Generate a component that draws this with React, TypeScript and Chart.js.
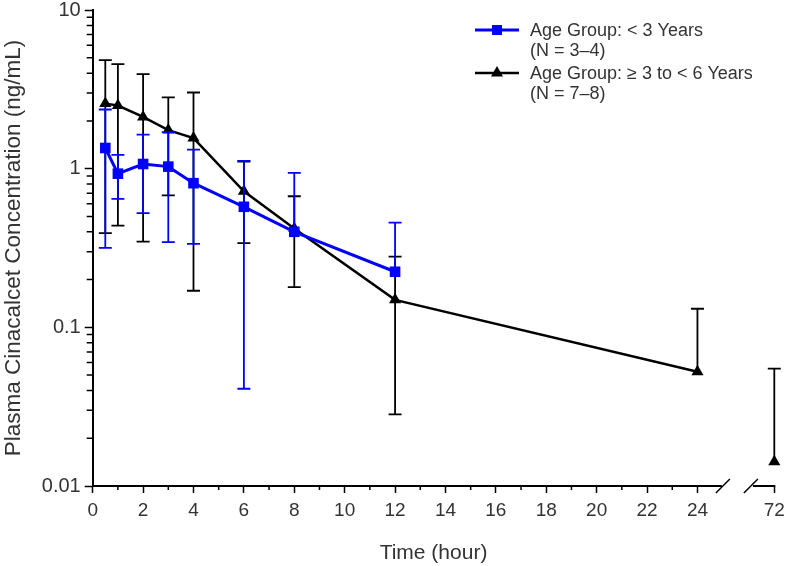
import React, { useEffect, useRef } from 'react';
import { Chart, registerables } from 'chart.js';
Chart.register(...registerables);

// ---------- data ----------
const SERIES_YOUNG_LABEL = ['Age Group: < 3 Years', '(N = 3–4)'];
const SERIES_OLDER_LABEL = ['Age Group: ≥ 3 to < 6 Years', '(N = 7–8)'];

const TIMES_YOUNG = [0.5, 1, 2, 3, 4, 6, 8, 12];
const MEAN_YOUNG = [1.35, 0.93, 1.07, 1.03, 0.81, 0.575, 0.40, 0.224];
const UPPER_YOUNG = [2.36, 1.22, 1.64, 1.70, 1.32, 1.12, 0.94, 0.457];
const LOWER_YOUNG = [0.317, 0.646, 0.524, 0.344, 0.336, 0.041, null, null];

const TIMES_OLDER = [0.5, 1, 2, 3, 4, 6, 8, 12, 24, 72];
const MEAN_OLDER = [2.57, 2.5, 2.12, 1.75, 1.56, 0.72, 0.42, 0.149, 0.0525, 0.0142];
const UPPER_OLDER = [4.83, 4.56, 3.94, 2.81, 3.02, 1.11, 0.67, 0.279, 0.131, 0.055];
const LOWER_OLDER = [0.392, 0.438, 0.347, 0.678, 0.170, 0.339, 0.179, 0.0283, null, null];

const X_TICK_HOURS = [0, 2, 4, 6, 8, 10, 12, 14, 16, 18, 20, 22, 24, 72];
const X_TICK_LABELS = ['0', '2', '4', '6', '8', '10', '12', '14', '16', '18', '20', '22', '24', '72'];
const X_MINOR_HOURS = [1, 3, 5, 7, 9, 11, 13, 15, 17, 19, 21, 23];
const Y_TICK_VALUES = [0.01, 0.1, 1, 10];
const Y_TICK_LABELS = ['0.01', '0.1', '1', '10'];
const Y_MINOR_MULTIPLIERS = [2, 3, 4, 5, 6, 7, 8, 9];
const X_TITLE = 'Time (hour)';
const Y_TITLE = 'Plasma Cinacalcet Concentration (ng/mL)';

// ---------- axis break ----------
const BREAK_START = 24;
const BREAK_END = 72;
const BREAK_SPAN = 3.05; // axis units used by the gap
const toAxis = (t: number) => (t <= BREAK_START ? t : BREAK_START + BREAK_SPAN + (t - BREAK_END));

const BLUE = '#0000ff';
const BLACK = '#000000';
const TEXT = '#333333';
const FONT = '"Liberation Sans", Arial, sans-serif';

const errorBarPlugin = {
  id: 'errorBars',
  beforeDatasetDraw(chart: any, args: any) {
    const ds = chart.data.datasets[args.index];
    const eb = ds.errorBars;
    if (!eb) return;
    const { ctx } = chart;
    const xs = chart.scales.x;
    const ys = chart.scales.y;
    ctx.save();
    ctx.strokeStyle = ds.borderColor;
    ctx.lineWidth = 1.8;
    const cap = 6.5;
    eb.times.forEach((t: number, i: number) => {
      const x = xs.getPixelForValue(toAxis(t));
      const yMid = ys.getPixelForValue(eb.mean[i]);
      const yTop = eb.upper[i] != null ? ys.getPixelForValue(eb.upper[i]) : yMid;
      const yBot = eb.lower[i] != null ? ys.getPixelForValue(eb.lower[i]) : yMid;
      ctx.beginPath();
      ctx.moveTo(x, yTop);
      ctx.lineTo(x, yBot);
      if (eb.upper[i] != null) {
        ctx.moveTo(x - cap, yTop);
        ctx.lineTo(x + cap, yTop);
      }
      if (eb.lower[i] != null) {
        ctx.moveTo(x - cap, yBot);
        ctx.lineTo(x + cap, yBot);
      }
      ctx.stroke();
    });
    ctx.restore();
  },
};

const decorPlugin = {
  id: 'decor',
  afterDraw(chart: any) {
    const { ctx, chartArea } = chart;
    const xs = chart.scales.x;
    const ys = chart.scales.y;
    const axisY = chartArea.bottom;
    ctx.save();
    ctx.strokeStyle = '#000';
    // x-axis line with break
    const leftEnd = xs.getPixelForValue(BREAK_START + 0.97);
    const rightStart = xs.getPixelForValue(BREAK_START + 2.2);
    ctx.lineWidth = 2;
    ctx.beginPath();
    ctx.moveTo(chartArea.left, axisY);
    ctx.lineTo(leftEnd, axisY);
    ctx.moveTo(rightStart, axisY);
    ctx.lineTo(chartArea.right + 1, axisY);
    ctx.stroke();
    ctx.lineWidth = 1.5;
    ctx.beginPath();
    ctx.moveTo(leftEnd - 6, axisY + 7);
    ctx.lineTo(leftEnd + 8, axisY - 7);
    ctx.moveTo(rightStart - 9, axisY + 7);
    ctx.lineTo(rightStart + 5, axisY - 7);
    ctx.stroke();
    // minor x ticks
    ctx.lineWidth = 1.5;
    ctx.beginPath();
    X_MINOR_HOURS.forEach((h) => {
      const x = xs.getPixelForValue(toAxis(h));
      ctx.moveTo(x, axisY);
      ctx.lineTo(x, axisY + 4);
    });
    // minor y ticks
    Y_TICK_VALUES.slice(0, -1).forEach((d) => {
      Y_MINOR_MULTIPLIERS.forEach((m) => {
        const y = ys.getPixelForValue(d * m);
        ctx.moveTo(chartArea.left - 6, y);
        ctx.lineTo(chartArea.left, y);
      });
    });
    ctx.stroke();

    // legend
    const items = [
      { label: SERIES_YOUNG_LABEL, color: BLUE, style: 'rect', y: 30 },
      { label: SERIES_OLDER_LABEL, color: BLACK, style: 'triangle', y: 73 },
    ];
    items.forEach((it) => {
      ctx.strokeStyle = it.color;
      ctx.fillStyle = it.color;
      ctx.lineWidth = it.color === BLUE ? 3 : 2.5;
      ctx.beginPath();
      ctx.moveTo(475, it.y);
      ctx.lineTo(519, it.y);
      ctx.stroke();
      const cx = 497;
      ctx.beginPath();
      if (it.style === 'rect') {
        ctx.rect(cx - 5, it.y - 5, 10, 10);
      } else {
        ctx.moveTo(cx, it.y - 7);
        ctx.lineTo(cx + 6, it.y + 3.5);
        ctx.lineTo(cx - 6, it.y + 3.5);
        ctx.closePath();
      }
      ctx.fill();
      ctx.fillStyle = TEXT;
      ctx.font = `18px ${FONT}`;
      ctx.textBaseline = 'middle';
      ctx.textAlign = 'left';
      ctx.fillText(it.label[0], 530, it.y + 1);
      ctx.fillText(it.label[1], 530, it.y + 21);
    });
    ctx.restore();
  },
};

export default function App() {
  const ref = useRef<HTMLCanvasElement>(null);
  useEffect(() => {
    const chart = new Chart(ref.current as HTMLCanvasElement, {
      type: 'line',
      data: {
        datasets: [
          {
            label: SERIES_YOUNG_LABEL.join(' '),
            data: TIMES_YOUNG.map((t, i) => ({ x: toAxis(t), y: MEAN_YOUNG[i] })),
            borderColor: BLUE,
            backgroundColor: BLUE,
            borderWidth: 3,
            pointStyle: 'rect',
            pointRadius: 7.5,
            pointHoverRadius: 7.5,
            pointBorderWidth: 0,
            clip: false,
            errorBars: { times: TIMES_YOUNG, mean: MEAN_YOUNG, upper: UPPER_YOUNG, lower: LOWER_YOUNG },
          } as any,
          {
            label: SERIES_OLDER_LABEL.join(' '),
            data: TIMES_OLDER.map((t, i) => ({ x: toAxis(t), y: MEAN_OLDER[i] })),
            borderColor: BLACK,
            backgroundColor: BLACK,
            borderWidth: 2.5,
            pointStyle: 'triangle',
            pointRadius: 7,
            pointHoverRadius: 7,
            pointBorderWidth: 0,
            clip: false,
            segment: {
              borderColor: (c: any) =>
                c.p0.parsed.x <= BREAK_START && c.p1.parsed.x > BREAK_START ? 'rgba(0,0,0,0)' : BLACK,
            },
            errorBars: { times: TIMES_OLDER, mean: MEAN_OLDER, upper: UPPER_OLDER, lower: LOWER_OLDER },
          } as any,
        ],
      },
      options: {
        animation: false,
        responsive: false,
        events: [],
        layout: { padding: { left: 0, right: 14.7, top: 10, bottom: 0 } },
        plugins: { legend: { display: false }, tooltip: { enabled: false } },
        scales: {
          x: {
            type: 'linear',
            min: 0,
            max: toAxis(BREAK_END),
            afterBuildTicks: (s: any) => {
              s.ticks = X_TICK_HOURS.map((h) => ({ value: toAxis(h) }));
            },
            afterFit: (s: any) => {
              s.height = 80;
              s.paddingLeft = 0;
              s.paddingRight = 0;
            },
            ticks: {
              callback: (_v: any, i: number) => X_TICK_LABELS[i],
              autoSkip: false,
              maxRotation: 0,
              padding: 8,
              color: TEXT,
              font: { family: FONT, size: 19, lineHeight: 1 },
            },
            grid: {
              display: true,
              drawOnChartArea: false,
              drawTicks: true,
              tickLength: 7,
              tickWidth: 1.5,
              tickColor: '#000',
              color: '#000',
            },
            border: { display: false },
            title: {
              display: true,
              text: X_TITLE,
              color: TEXT,
              font: { family: FONT, size: 21 },
              padding: { top: 0, bottom: 0 },
            },
          },
          y: {
            type: 'logarithmic',
            min: 0.01,
            max: 10,
            afterBuildTicks: (s: any) => {
              s.ticks = Y_TICK_VALUES.map((v) => ({ value: v, major: true }));
            },
            afterFit: (s: any) => {
              s.width = 92.7;
              s.paddingTop = 0;
              s.paddingBottom = 0;
            },
            ticks: {
              callback: (_v: any, i: number) => Y_TICK_LABELS[i],
              autoSkip: false,
              padding: 4,
              color: TEXT,
              font: { family: FONT, size: 20, lineHeight: 1 },
            },
            grid: {
              display: true,
              drawOnChartArea: false,
              drawTicks: true,
              tickLength: 8,
              tickWidth: 1.5,
              tickColor: '#000',
              color: '#000',
            },
            border: { display: true, color: '#000', width: 2 },
            title: {
              display: true,
              text: Y_TITLE,
              color: TEXT,
              font: { family: FONT, size: 22.5 },
              padding: { top: 0, bottom: 0 },
            },
          },
        },
      } as any,
      plugins: [errorBarPlugin, decorPlugin],
    });
    return () => chart.destroy();
  }, []);
  return (
    <div style={{ position: 'absolute', left: 0, top: 0, width: 789, height: 566, background: '#fff' }}>
      <canvas ref={ref} width={789} height={566} style={{ display: 'block', width: 789, height: 566 }} />
    </div>
  );
}
